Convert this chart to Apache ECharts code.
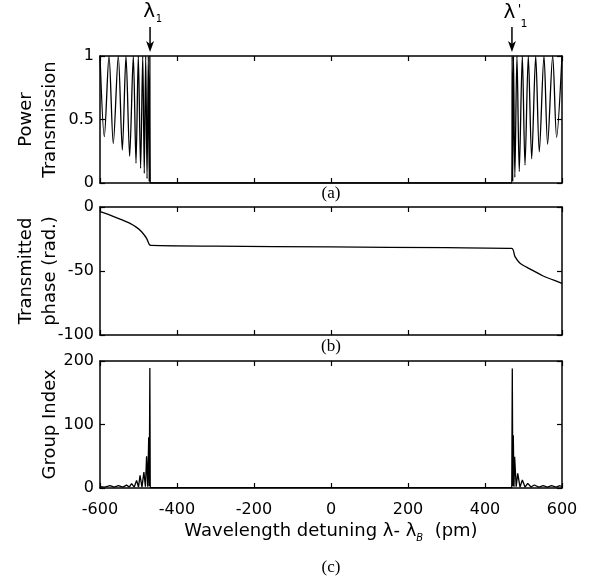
<!DOCTYPE html>
<html><head><meta charset="utf-8">
<script src="https://cdn.jsdelivr.net/npm/echarts@6/dist/echarts.min.js"></script>
<style>html,body{margin:0;padding:0;background:#fff}#c{width:600px;height:582px}</style>
</head><body><div id="c"></div>
<script>
// ---- data ----
// (a) power transmission
const transWl  = [-600,-588.8,-576.6,-565.5,-552.5,-542,-532.5,-523,-513.5,-506.5,-500.5,-494.5,-489,-485,-481.3,-477.8,-474.5,-472.2,-470.5,-469.5,
                  469.5,470.5,472,474,477.5,483,489,496.9,503.9,512.5,521.3,531.7,541,553.2,562.6,575.8,586,600];
const transVal = [1,0.365,1,0.31,1,0.26,1,0.21,1,0.155,1,0.115,1,0.075,1,0.035,1,0.01,1,0,
                  0,1,0.01,1,0.045,1,0.09,1,0.14,1,0.19,1,0.245,1,0.305,1,0.36,1];
// (b) transmitted phase (rad.)
const phaseWl  = [-600,-574,-548,-522,-505,-492,-479,-472,-468,-300,0,300,469,478,491,508,525,551,577,600];
const phaseVal = [-3.7,-6.3,-9.4,-12.8,-15.9,-19.3,-24.5,-29.2,-30,-30.6,-31.2,-31.8,-32.3,-38.8,-44,-47,-49.7,-53.9,-57,-59.6];
// (c) group index
const groupWl  = [-600,-588,-574,-563,-552,-541,-531,-524,-518,-511,-505,-500,-496,-491,-486,-482,-479,-476,-473.5,-472,-470.5,-469.5,
                  469.5,470.9,472.2,473.5,475.3,477,481,485,491,497,504,511,519.5,528,540,551,562,573,584,595,600];
const groupVal = [2,1.5,3.6,1.5,3.6,1.5,4.5,1.5,7,1.5,12,1.5,20,1.5,25,2,50,2,80,3,189,0.5,
                  0.5,188,3,83,2,49,2,23,1.5,12.5,1.5,7.3,1.5,4.7,1.5,3.6,1.5,3.6,1.5,3.6,2];
// annotations
const bandEdges   = [-470, 470];
const edgeLabels  = [['λ', '1', ''], ['λ', '1', "'"]];
const panelLabels = ['(a)', '(b)', '(c)'];
const yNames = ['Power\nTransmission', 'Transmitted\nphase (rad.)', 'Group Index'];
const yRanges = [[0, 1, 0.5], [-100, 0, 50], [0, 200, 100]];

// ---- layout ----
const FONT = 'DejaVu Sans';
const grids = [
  {left: 100, top: 56, width: 462, height: 127, outerBoundsMode: 'none', containLabel: false},
  {left: 100, top: 207, width: 462, height: 128, outerBoundsMode: 'none', containLabel: false},
  {left: 100, top: 361, width: 462, height: 127, outerBoundsMode: 'none', containLabel: false}
];
const lineAx = {show: true, onZero: false, lineStyle: {color: '#000', width: 1.5}};
const tickAx = {show: true, inside: true, length: 5, lineStyle: {color: '#000', width: 1.2}};

const xAxis = [], yAxis = [];
grids.forEach((g, i) => {
  ['bottom', 'top'].forEach(pos => {
    xAxis.push({type: 'value', gridIndex: i, position: pos, min: -600, max: 600, interval: 200,
      axisLine: lineAx, axisTick: tickAx, splitLine: {show: false},
      axisLabel: {show: pos === 'bottom' && i === 2, margin: 14, color: '#000', fontSize: 16, fontFamily: FONT}});
  });
  ['left', 'right'].forEach(pos => {
    const r = yRanges[i];
    yAxis.push({type: 'value', gridIndex: i, position: pos, min: r[0], max: r[1], interval: r[2],
      axisLine: lineAx, axisTick: tickAx, splitLine: {show: false},
      name: pos === 'left' ? yNames[i] : '', nameLocation: 'middle', nameGap: 38, nameMoveOverlap: false,
      nameTextStyle: {color: '#000', fontSize: 18, lineHeight: 24, fontFamily: FONT},
      axisLabel: {show: pos === 'left', margin: 6, color: '#000', fontSize: 16, fontFamily: FONT}});
  });
});

const mk = (xs, ys) => xs.map((x, i) => [x, ys[i]]);
const lineStyle = {color: '#000', width: 1.3};
const option = {
  animation: false,
  backgroundColor: '#fff',
  grid: grids,
  xAxis, yAxis,
  series: [
    {type: 'line', xAxisIndex: 0, yAxisIndex: 0, data: mk(transWl, transVal), showSymbol: false, smooth: 0.3, lineStyle},
    {type: 'line', xAxisIndex: 2, yAxisIndex: 2, data: mk(phaseWl, phaseVal), showSymbol: false, smooth: 0.3, lineStyle},
    {type: 'line', xAxisIndex: 4, yAxisIndex: 4, data: mk(groupWl, groupVal), showSymbol: false, smooth: false, lineStyle}
  ]
};

const chart = echarts.init(document.getElementById('c'));
chart.setOption(option);

const graphic = [];
const cx = chart.convertToPixel({xAxisIndex: 0}, 0);
bandEdges.forEach((wl, i) => {
  const px = chart.convertToPixel({xAxisIndex: 0}, wl);
  graphic.push({type: 'line', shape: {x1: px, y1: 27, x2: px, y2: 44}, style: {stroke: '#000', lineWidth: 1.5}});
  graphic.push({type: 'polygon', shape: {points: [[px - 4, 41], [px, 44], [px + 4, 41], [px, 52]]}, style: {fill: '#000'}});
  const lab = edgeLabels[i];
  const right = i === 1;
  graphic.push({type: 'text', x: px + (right ? -2.5 : -1), y: right ? 13 : 12,
    style: {text: lab[0], fontSize: 20, fontFamily: FONT, fill: '#000', align: 'center', verticalAlign: 'middle'}});
  if (lab[2]) graphic.push({type: 'text', x: px + 7.5, y: 10,
    style: {text: lab[2], fontSize: 13, fontFamily: FONT, fill: '#000', align: 'center', verticalAlign: 'middle'}});
  graphic.push({type: 'text', x: px + (right ? 12 : 9), y: right ? 24.5 : 19.5,
    style: {text: lab[1], fontSize: right ? 11 : 10, fontFamily: FONT, fill: '#000', align: 'center', verticalAlign: 'middle'}});
});
const labelY = [194, 347, 568];
panelLabels.forEach((t, i) => {
  graphic.push({type: 'text', x: cx, y: labelY[i],
    style: {text: t, fontSize: 17, fontFamily: 'Liberation Serif', fill: '#000', align: 'center', verticalAlign: 'middle'}});
});
graphic.push({type: 'text', x: cx, y: 531,
  style: {text: '{n|Wavelength detuning λ- λ}{s|B}{n|  (pm)}', align: 'center', verticalAlign: 'middle', fill: '#000',
    rich: {n: {fontSize: 18, lineHeight: 24, fontFamily: FONT, fill: '#000', verticalAlign: 'middle'},
           s: {fontSize: 10, lineHeight: 12, fontFamily: FONT, fontStyle: 'italic', fill: '#000', verticalAlign: 'bottom'}}}});
chart.setOption({graphic});
</script>
</body></html>
